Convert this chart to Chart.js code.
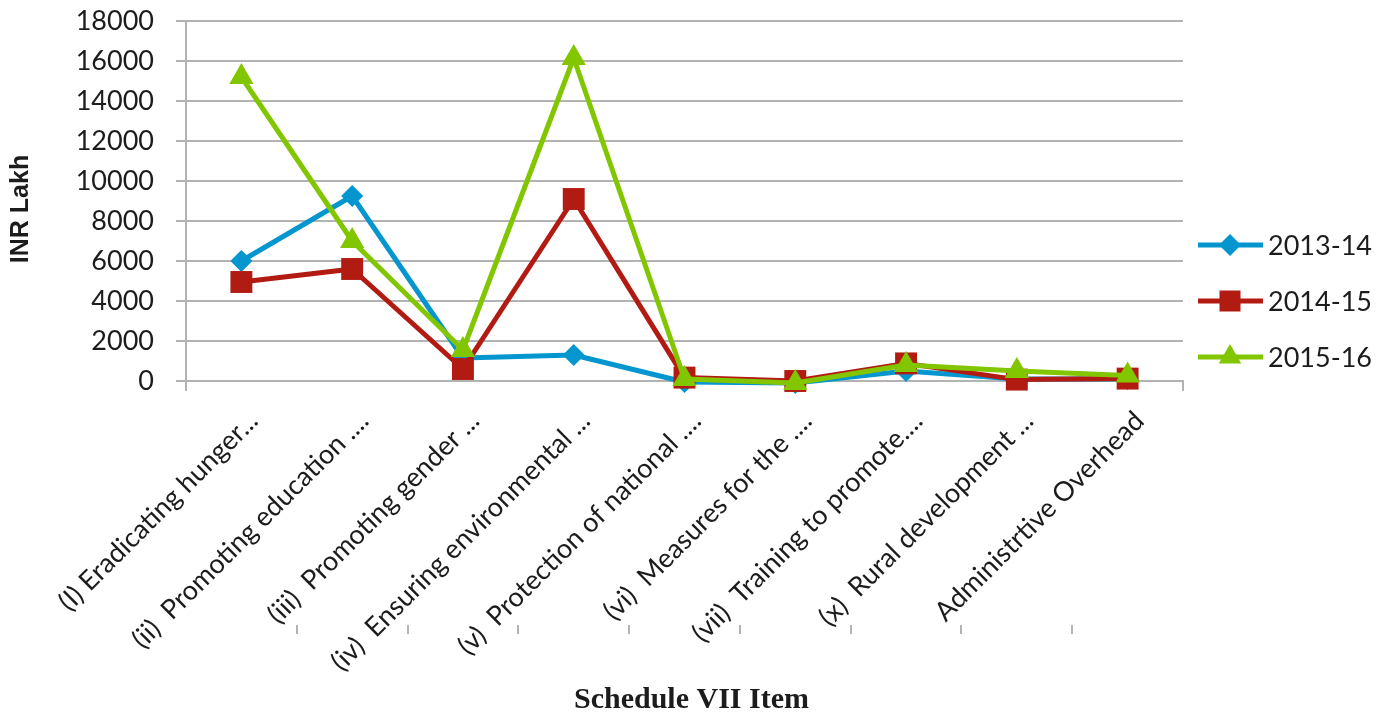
<!DOCTYPE html>
<html>
<head>
<meta charset="utf-8">
<title>CSR spend by Schedule VII item</title>
<script src="https://cdn.jsdelivr.net/npm/chart.js@4/dist/chart.umd.min.js"></script>
<style>
  html, body { margin: 0; padding: 0; background: #ffffff; }
  #wrap { width: 1391px; height: 714px; position: relative; }
</style>
</head>
<body>
<div id="wrap"><canvas id="chart" width="1391" height="714"></canvas></div>
<script>
// Schedule VII categories (x axis)
const categories = [
  '(I) Eradicating hunger...',
  '(ii)  Promoting education ....',
  '(iii)  Promoting gender ...',
  '(iv)  Ensuring environmental ...',
  '(v)  Protection of national ....',
  '(vi)  Measures for the ....',
  '(vii)  Training to promote....',
  '(x)  Rural development ...',
  'Administrtive Overhead'
];

// Spend per year, INR Lakh
const spend2013 = [6000, 9250, 1150, 1300, -50, -100, 500, 100, 100];
const spend2014 = [4950, 5600, 600, 9100, 170, 0, 880, 70, 120];
const spend2015 = [15200, 7000, 1550, 16150, 100, -100, 800, 500, 270];

const seriesNames = ['2013-14', '2014-15', '2015-16'];
const seriesColors = ['#0596cf', '#b21b12', '#82c600'];
const seriesMarkers = ['rectRot', 'rect', 'triangle'];

// Value axis ticks
const yMin = 0;
const yMax = 18000;
const yStep = 2000;

const axisTitleX = 'Schedule VII Item';
const axisTitleY = 'INR Lakh';

const gridGray = '#b3b3b3';
const textColor = '#1c1c1c';
const labelFont = 'Lato, "Open Sans", sans-serif';

// Marker drawing shared by the legend
function drawMarker(ctx, style, x, y, color) {
  ctx.save();
  ctx.fillStyle = color;
  ctx.beginPath();
  if (style === 'rectRot') {
    const r = 11;
    ctx.moveTo(x, y - r); ctx.lineTo(x + r, y); ctx.lineTo(x, y + r); ctx.lineTo(x - r, y);
  } else if (style === 'rect') {
    const s = 10.5;
    ctx.rect(x - s, y - s, 2 * s, 2 * s);
  } else {
    const r = 13;
    ctx.moveTo(x, y - r);
    ctx.lineTo(x + r * Math.sin(2 * Math.PI / 3), y - r * Math.cos(2 * Math.PI / 3));
    ctx.lineTo(x + r * Math.sin(4 * Math.PI / 3), y - r * Math.cos(4 * Math.PI / 3));
  }
  ctx.closePath();
  ctx.fill();
  ctx.restore();
}

// Axis titles, category tick marks and the series key on the right
const decorations = {
  id: 'decorations',
  afterDraw(chart) {
    const ctx = chart.ctx;
    const area = chart.chartArea;
    const xs = chart.scales.x;

    ctx.save();
    // tick marks at the category boundaries
    ctx.strokeStyle = gridGray;
    ctx.lineWidth = 2;
    for (let i = 0; i <= categories.length; i++) {
      const px = Math.round(xs.getPixelForValue(i - 0.5));
      ctx.beginPath();
      if (i === 0 || i === categories.length) {
        ctx.moveTo(px, area.bottom);
        ctx.lineTo(px, area.bottom + 10);
      } else {
        ctx.moveTo(px, 625);
        ctx.lineTo(px, 634);
      }
      ctx.stroke();
    }

    // axis titles
    ctx.fillStyle = textColor;
    ctx.font = 'bold 30px "Liberation Serif", "Times New Roman", serif';
    ctx.textAlign = 'center';
    ctx.textBaseline = 'alphabetic';
    ctx.fillText(axisTitleX, (area.left + area.right) / 2 + 7, 708);

    ctx.save();
    ctx.translate(28, 209);
    ctx.rotate(-Math.PI / 2);
    ctx.font = 'bold 25px "Liberation Sans", Arial, sans-serif';
    ctx.fillText(axisTitleY, 0, 0);
    ctx.restore();

    // series key
    const rowY = [245, 301, 357];
    chart.data.datasets.forEach((ds, i) => {
      const y = rowY[i];
      ctx.strokeStyle = ds.borderColor;
      ctx.lineWidth = 5;
      ctx.beginPath();
      ctx.moveTo(1198, y);
      ctx.lineTo(1263, y);
      ctx.stroke();
      drawMarker(ctx, seriesMarkers[i], 1230, y, ds.borderColor);
      ctx.fillStyle = textColor;
      ctx.font = '27px ' + labelFont;
      ctx.textAlign = 'left';
      ctx.textBaseline = 'middle';
      ctx.fillText(ds.label, 1268, y + 1);
    });
    ctx.restore();
  }
};

const seriesData = [spend2013, spend2014, spend2015];
const markerRadius = [11, 15.5, 14];

const datasets = seriesData.map((values, i) => ({
  label: seriesNames[i],
  data: values,
  borderColor: seriesColors[i],
  backgroundColor: seriesColors[i],
  borderWidth: 5,
  borderJoinStyle: 'round',
  tension: 0,
  pointStyle: seriesMarkers[i],
  pointRadius: markerRadius[i],
  pointHoverRadius: markerRadius[i],
  pointBorderWidth: 0,
  pointBackgroundColor: seriesColors[i],
  clip: false,
  order: seriesData.length - i
}));

new Chart(document.getElementById('chart'), {
  type: 'line',
  data: { labels: categories, datasets },
  plugins: [decorations],
  options: {
    responsive: false,
    animation: false,
    devicePixelRatio: 1,
    layout: { padding: { top: 21, right: 208, bottom: 0, left: 0 } },
    plugins: {
      legend: { display: false },
      tooltip: { enabled: false },
      title: { display: false }
    },
    scales: {
      x: {
        type: 'category',
        offset: true,
        grid: { display: false, drawTicks: false },
        border: { display: true, color: gridGray, width: 2 },
        ticks: {
          color: textColor,
          font: { family: labelFont, size: 27 },
          minRotation: 45,
          maxRotation: 45,
          autoSkip: false,
          labelOffset: 12,
          padding: 24
        },
        afterFit(scale) { scale.height = 333; }
      },
      y: {
        min: yMin,
        max: yMax,
        grid: { color: gridGray, lineWidth: 2, tickLength: 10, drawTicks: true },
        border: { display: true, color: gridGray, width: 2 },
        ticks: {
          stepSize: yStep,
          color: textColor,
          font: { family: labelFont, size: 27 },
          padding: 22,
          callback: (v) => String(v)
        },
        afterFit(scale) {
          scale.width = 186;
          scale.paddingTop = 0;
          scale.paddingBottom = 0;
        }
      }
    }
  }
});
</script>
</body>
</html>
